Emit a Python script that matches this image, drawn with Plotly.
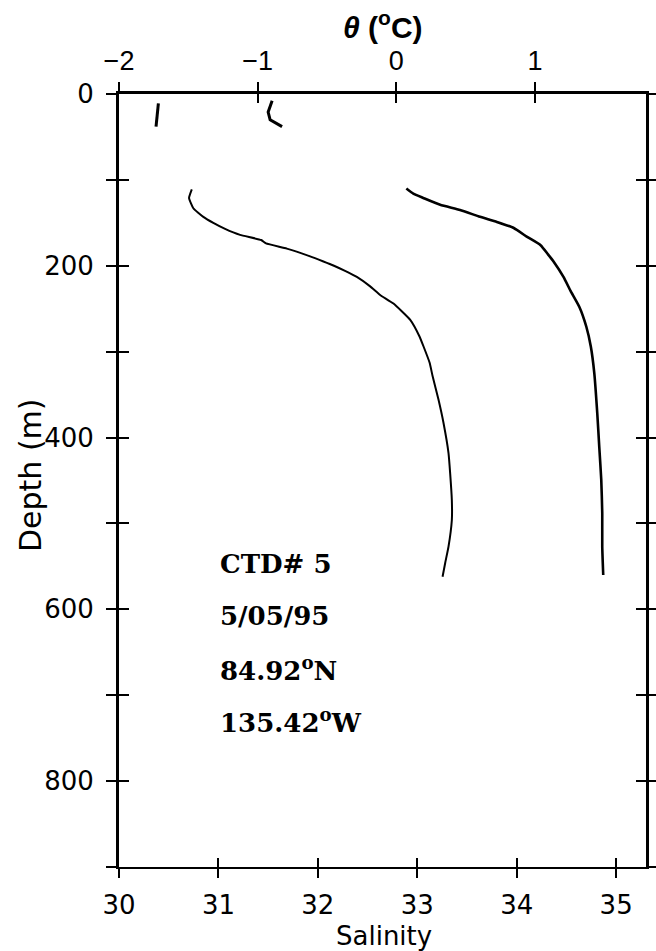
import plotly.graph_objects as go

# ---------------- data ----------------
# potential temperature, near-surface segment
theta_surf_depth = [11, 38]
theta_surf = [-1.716, -1.733]
# salinity, near-surface segment
sal_surf_depth = [8, 21, 30, 38]
sal_surf = [31.54, 31.50, 31.52, 31.64]

# potential temperature profile (deg C) below 110 m
theta_depth = [111, 121, 133, 143, 150, 157, 164, 170, 174, 180, 189, 195, 200, 206,
               213, 224, 234, 244, 263, 282, 294, 313, 329, 356, 383, 418, 442, 473,
               496, 527, 546, 562]
theta = [-1.475, -1.495, -1.464, -1.392, -1.32, -1.235, -1.127, -0.975, -0.94, -0.79,
         -0.622, -0.526, -0.45, -0.37, -0.285, -0.189, -0.117, -0.021, 0.10, 0.166,
         0.196, 0.240, 0.262, 0.304, 0.34, 0.376, 0.388, 0.40, 0.40, 0.376, 0.352, 0.333]

# salinity profile below 110 m
sal_depth = [110, 116, 121, 129, 135, 143, 149, 156, 166, 176, 186, 195, 213, 229, 248,
             271, 294, 325, 372, 411, 449, 488, 527, 560]
salinity = [32.89, 32.96, 33.06, 33.23, 33.43, 33.63, 33.80, 33.97, 34.10, 34.24, 34.31,
            34.37, 34.47, 34.54, 34.63, 34.70, 34.745, 34.78, 34.81, 34.83, 34.85, 34.86,
            34.86, 34.87]

# axes
sal_ticks = [30, 31, 32, 33, 34, 35]
sal_range = [30, 35.3]
theta_ticks = [-2, -1, 0, 1]
theta_ticktext = ["\u22122", "\u22121", "0", "1"]
theta_range = [-2, 1.8]
depth_ticks = [0, 200, 400, 600, 800]
depth_minor_ticks = [100, 300, 500, 700, 900]
depth_all_ticks = [0, 100, 200, 300, 400, 500, 600, 700, 800, 900]
depth_range = [900, 0]

info_lines = ["CTD# 5", "5/05/95", "84.92<sup>o</sup>N", "135.42<sup>o</sup>W"]
info_depths = [547, 608, 669, 730]
info_sal = 31.0

# ---------------- figure ----------------
GEO = "DejaVu Sans"
fig = go.Figure()

fig.add_trace(go.Scatter(x=theta, y=theta_depth, mode="lines",
                         line=dict(color="black", width=2, shape="spline", smoothing=0.4),
                         xaxis="x2", yaxis="y", hoverinfo="skip"))
fig.add_trace(go.Scatter(x=theta_surf, y=theta_surf_depth, mode="lines",
                         line=dict(color="black", width=3), xaxis="x2", yaxis="y",
                         hoverinfo="skip"))
fig.add_trace(go.Scatter(x=salinity, y=sal_depth, mode="lines",
                         line=dict(color="black", width=2.6, shape="spline", smoothing=0.5),
                         xaxis="x", yaxis="y", hoverinfo="skip"))
fig.add_trace(go.Scatter(x=sal_surf, y=sal_surf_depth, mode="lines",
                         line=dict(color="black", width=3), xaxis="x", yaxis="y",
                         hoverinfo="skip"))

# invisible copies so every overlay axis (crossing ticks, right frame) gets drawn
for xa, ya in [("x3", "y"), ("x4", "y"), ("x", "y2"), ("x", "y3"), ("x", "y4")]:
    xs, ds = (theta, theta_depth) if xa == "x4" else (salinity, sal_depth)
    fig.add_trace(go.Scatter(x=xs, y=ds, mode="lines", opacity=0,
                             line=dict(color="black", width=0.1),
                             xaxis=xa, yaxis=ya, hoverinfo="skip"))

tick_common = dict(tickcolor="black", showgrid=False, zeroline=False, automargin=False)

fig.update_layout(
    width=656, height=951,
    margin=dict(l=119, r=10, t=94, b=84),
    paper_bgcolor="white", plot_bgcolor="white",
    showlegend=False,
    xaxis=dict(range=sal_range, tickvals=sal_ticks, ticks="outside", ticklen=9,
               tickwidth=1.5, showline=True, linecolor="black", linewidth=1.5,
               side="bottom", anchor="y", ticklabelstandoff=5,
               tickfont=dict(family=GEO, size=26, color="black"),
               **tick_common),
    xaxis3=dict(range=sal_range, tickvals=sal_ticks, ticks="inside", ticklen=9,
                tickwidth=1.5, showline=False, showticklabels=False,
                overlaying="x", side="bottom", anchor="y", **tick_common),
    xaxis2=dict(range=theta_range, tickvals=theta_ticks, ticktext=theta_ticktext,
                ticks="outside", ticklen=9, tickwidth=2, showline=True,
                linecolor="black", linewidth=2.5, overlaying="x", side="top",
                anchor="y", ticklabelstandoff=1,
                tickfont=dict(family="Liberation Sans", size=27, color="black"),
                **tick_common),
    xaxis4=dict(range=theta_range, tickvals=theta_ticks, ticks="inside", ticklen=9,
                tickwidth=2, showline=False, showticklabels=False,
                overlaying="x", side="top", anchor="y", **tick_common),
    yaxis=dict(range=depth_range, tickvals=depth_ticks,
               ticks="outside", ticklen=10, tickwidth=2, showline=True,
               linecolor="black", linewidth=3, side="left", anchor="x",
               ticklabelstandoff=7,
               minor=dict(tickvals=depth_minor_ticks, ticks="outside", ticklen=10,
                          tickwidth=2, tickcolor="black", showgrid=False),
               tickfont=dict(family=GEO, size=26, color="black"),
               **tick_common),
    yaxis2=dict(range=depth_range, tickvals=depth_all_ticks, ticks="inside", ticklen=10,
                tickwidth=2, showline=False, showticklabels=False,
                overlaying="y", side="left", anchor="x", **tick_common),
    yaxis3=dict(range=depth_range, tickvals=depth_all_ticks, ticks="outside", ticklen=10,
                tickwidth=2, showline=True, linecolor="black", linewidth=3,
                showticklabels=False, overlaying="y", side="right", anchor="x",
                **tick_common),
    yaxis4=dict(range=depth_range, tickvals=depth_all_ticks, ticks="inside", ticklen=10,
                tickwidth=2, showline=False, showticklabels=False,
                overlaying="y", side="right", anchor="x", **tick_common),
)

# axis titles
fig.add_annotation(text="Depth (m)", textangle=-90, xref="paper", yref="paper",
                   x=-0.169, y=0.507, xanchor="center", yanchor="middle",
                   showarrow=False, font=dict(family=GEO, size=30, color="black"))
fig.add_annotation(text="Salinity", xref="paper", yref="paper",
                   x=0.502, y=-0.0893, xanchor="center", yanchor="middle",
                   showarrow=False, font=dict(family=GEO, size=26, color="black"))
fig.add_annotation(text="<b><i>\u03b8</i> (<sup>o</sup>C)</b>", xref="paper", yref="paper",
                   x=0.501, y=1.089, xanchor="center", yanchor="middle",
                   showarrow=False, font=dict(family="Liberation Sans", size=30,
                                              color="black"))

for txt, d in zip(info_lines, info_depths):
    fig.add_annotation(
        text=txt, xref="x", yref="y", x=info_sal, y=d,
        xanchor="left", yanchor="middle", align="left", showarrow=False,
        font=dict(family="DejaVu Serif", size=26, color="black", weight="bold"),
    )

fig.write_html("out.html", config={"displayModeBar": False},
               post_script="document.body.style.margin='0px';"
                           "document.body.style.overflow='hidden';")
